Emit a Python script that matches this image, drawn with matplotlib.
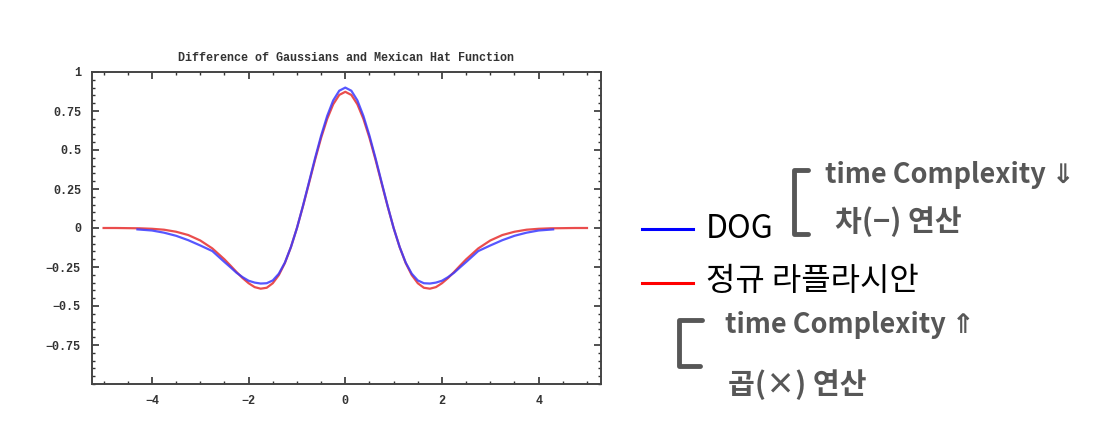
import matplotlib
matplotlib.use("Agg")
import matplotlib.pyplot as plt
from matplotlib.lines import Line2D
from matplotlib.ticker import MultipleLocator, FixedLocator

W, H = 1095, 447

# values
x_red = [-5.0, -4.75, -4.5, -4.25, -4.0, -3.75, -3.5, -3.25, -3.0, -2.75,
         -2.5, -2.375, -2.25, -2.125, -2.0, -1.875, -1.75, -1.625, -1.5, -1.375,
         -1.25, -1.125, -1.0, -0.875, -0.75, -0.625, -0.5, -0.375, -0.25, -0.125,
         0.0,
         0.125, 0.25, 0.375, 0.5, 0.625, 0.75, 0.875, 1.0, 1.125, 1.25,
         1.375, 1.5, 1.625, 1.75, 1.875, 2.0, 2.125, 2.25, 2.375, 2.5,
         2.75, 3.0, 3.25, 3.5, 3.75, 4.0, 4.25, 4.5, 4.75, 5.0]
y_red = [0.0, 0.0, -0.001, -0.002, -0.005, -0.011, -0.024, -0.045, -0.080, -0.131,
         -0.201, -0.241, -0.282, -0.321, -0.354, -0.379, -0.389, -0.383, -0.354, -0.302,
         -0.225, -0.123, 0.0, 0.140, 0.288, 0.438, 0.578, 0.699, 0.793, 0.853,
         0.873,
         0.853, 0.793, 0.699, 0.578, 0.438, 0.288, 0.140, 0.0, -0.123, -0.225,
         -0.302, -0.354, -0.383, -0.389, -0.379, -0.354, -0.321, -0.282, -0.241, -0.201,
         -0.131, -0.080, -0.045, -0.024, -0.011, -0.005, -0.002, -0.001, 0.0, 0.0]

x_blue = [-4.3, -4.0, -3.75, -3.5, -3.25, -3.0, -2.75,
          -2.5, -2.375, -2.25, -2.125, -2.0, -1.875, -1.75, -1.625, -1.5, -1.375,
          -1.25, -1.125, -1.0, -0.875, -0.75, -0.625, -0.5, -0.375, -0.25, -0.125,
          0.0,
          0.125, 0.25, 0.375, 0.5, 0.625, 0.75, 0.875, 1.0, 1.125, 1.25,
          1.375, 1.5, 1.625, 1.75, 1.875, 2.0, 2.125, 2.25, 2.375, 2.5,
          2.75, 3.0, 3.25, 3.5, 3.75, 4.0, 4.3]
y_blue = [-0.009, -0.016, -0.030, -0.050, -0.078, -0.112, -0.148,
          -0.218, -0.252, -0.287, -0.315, -0.338, -0.350, -0.356, -0.354, -0.336, -0.293,
          -0.222, -0.122, 0.0, 0.143, 0.295, 0.448, 0.592, 0.718, 0.818, 0.880,
          0.900,
          0.880, 0.818, 0.718, 0.592, 0.448, 0.295, 0.143, 0.0, -0.122, -0.222,
          -0.293, -0.336, -0.354, -0.356, -0.350, -0.338, -0.315, -0.287, -0.252, -0.218,
          -0.148, -0.112, -0.078, -0.050, -0.030, -0.016, -0.009]

y_ticks = [-0.75, -0.5, -0.25, 0, 0.25, 0.5, 0.75, 1]
y_ticklabels = ["\u22120.75", "\u22120.5", "\u22120.25", "0", "0.25", "0.5", "0.75", "1"]
x_ticks = [-4, -2, 0, 2, 4]
x_ticklabels = ["\u22124", "\u22122", "0", "2", "4"]

title = "Difference of Gaussians and Mexican Hat Function"
legend_labels = ["DOG", "정규 라플라시안"]
notes = ["time Complexity ⇓", "차(−) 연산", "time Complexity ⇑", "곱(×) 연산"]

mono = "Liberation Mono"
kr = ["Noto Sans CJK KR", "DejaVu Sans"]
gray = "#575757"

fig = plt.figure(figsize=(W / 100, H / 100), dpi=100)
ax = fig.add_axes([92 / W, 1 - 384 / H, (601 - 92) / W, (384 - 72) / H])

ax.plot(x_blue, y_blue, color="#3a3aff", lw=1.6, alpha=0.85, zorder=3)
ax.plot(x_red, y_red, color="#e83a3a", lw=1.6, alpha=0.9, zorder=2)

ax.set_xlim(-5.24, 5.29)
ax.set_ylim(-1, 1)
ax.xaxis.set_major_locator(FixedLocator(x_ticks))
ax.yaxis.set_major_locator(FixedLocator(y_ticks))
ax.set_xticklabels(x_ticklabels)
ax.set_yticklabels(y_ticklabels)
ax.xaxis.set_minor_locator(MultipleLocator(0.5))
ax.yaxis.set_minor_locator(MultipleLocator(0.05))
ax.tick_params(which="both", direction="in", top=True, right=True, color="#333333")
ax.tick_params(which="major", length=5, width=1.2, pad=8)
ax.tick_params(which="minor", length=2.5, width=1.0)
for lbl in ax.get_xticklabels() + ax.get_yticklabels():
    lbl.set_fontfamily(mono)
    lbl.set_fontsize(8.5)
    lbl.set_fontweight("bold")
    lbl.set_color("#333333")
for sp in ax.spines.values():
    sp.set_linewidth(1.4)
    sp.set_color("#444444")
ax.set_title(title, fontfamily=mono, fontsize=8.5, fontweight="bold", color="#333333", pad=8)


def fx(px):
    return px / W


def fy(py):
    return 1 - py / H


# legend drawn by hand at the right
fig.add_artist(Line2D([fx(642), fx(693)], [fy(229), fy(229)], color="#0000ff", lw=2.2))
fig.add_artist(Line2D([fx(642), fx(693)], [fy(283), fy(283)], color="#ff0000", lw=2.2))
fig.text(fx(706), fy(229), legend_labels[0], family=kr, fontsize=23, va="center", ha="left")
fig.text(fx(706), fy(281), legend_labels[1], family=kr, fontsize=23, va="center", ha="left")

# handwritten style notes
br_lw = 3.5
fig.add_artist(Line2D([fx(808), fx(794), fx(794), fx(808)], [fy(170), fy(170), fy(234), fy(234)],
                      color=gray, lw=br_lw, solid_capstyle="round", solid_joinstyle="round"))
fig.add_artist(Line2D([fx(702), fx(679), fx(679), fx(700)], [fy(320), fy(320), fy(366), fy(366)],
                      color=gray, lw=br_lw, solid_capstyle="round", solid_joinstyle="round"))
fig.text(fx(825), fy(175), notes[0], family=kr, fontsize=19.5, fontweight="bold", color=gray, va="center")
fig.text(fx(835), fy(222), notes[1], family=kr, fontsize=21, fontweight="bold", color=gray, va="center")
fig.text(fx(725), fy(325), notes[2], family=kr, fontsize=19.5, fontweight="bold", color=gray, va="center")
fig.text(fx(728), fy(385), notes[3], family=kr, fontsize=21, fontweight="bold", color=gray, va="center")

fig.savefig("out.png", dpi=100)
